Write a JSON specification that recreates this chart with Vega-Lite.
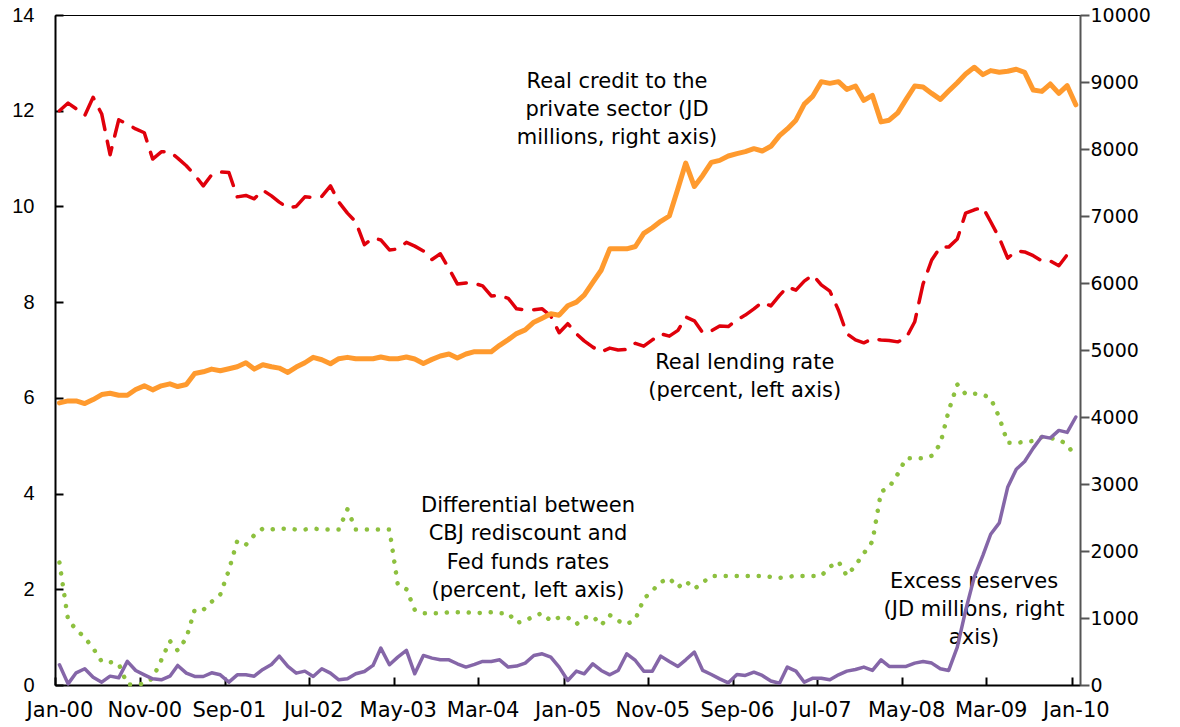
{
  "$schema": "https://vega.github.io/schema/vega-lite/v6.json",
  "width": 1025,
  "height": 670,
  "autosize": {"type": "none"},
  "padding": {"left": 55, "top": 15, "right": 100, "bottom": 42},
  "config": {"view": {"stroke": "#000", "strokeWidth": 1}, "font": "Liberation Sans"},
  "data": {"values": [
    {"date":"2000/01/01","lending":12.0,"differential":2.56,"credit":4210,"reserves":302},
    {"date":"2000/02/01","lending":12.16,"differential":1.36,"credit":4240,"reserves":17},
    {"date":"2000/03/01","lending":12.04,"differential":1.16,"credit":4240,"reserves":182},
    {"date":"2000/04/01","lending":11.9,"differential":0.99,"credit":4200,"reserves":242},
    {"date":"2000/05/01","lending":12.28,"differential":0.77,"credit":4260,"reserves":117},
    {"date":"2000/06/01","lending":11.93,"differential":0.49,"credit":4335,"reserves":42},
    {"date":"2000/07/01","lending":11.08,"differential":0.48,"credit":4355,"reserves":132},
    {"date":"2000/08/01","lending":11.81,"differential":0.44,"credit":4325,"reserves":107},
    {"date":"2000/09/01","lending":11.72,"differential":0.01,"credit":4325,"reserves":352},
    {"date":"2000/10/01","lending":11.62,"differential":0.01,"credit":4410,"reserves":217},
    {"date":"2000/11/01","lending":11.54,"differential":0.03,"credit":4465,"reserves":152},
    {"date":"2000/12/01","lending":10.99,"differential":0.14,"credit":4405,"reserves":92},
    {"date":"2001/01/01","lending":11.14,"differential":0.52,"credit":4465,"reserves":77},
    {"date":"2001/02/01","lending":11.14,"differential":0.92,"credit":4495,"reserves":132},
    {"date":"2001/03/01","lending":11.01,"differential":0.72,"credit":4455,"reserves":292},
    {"date":"2001/04/01","lending":10.85,"differential":0.98,"credit":4485,"reserves":177},
    {"date":"2001/05/01","lending":10.66,"differential":1.57,"credit":4650,"reserves":127},
    {"date":"2001/06/01","lending":10.43,"differential":1.57,"credit":4675,"reserves":127},
    {"date":"2001/07/01","lending":10.66,"differential":1.74,"credit":4715,"reserves":182},
    {"date":"2001/08/01","lending":10.72,"differential":1.89,"credit":4690,"reserves":152},
    {"date":"2001/09/01","lending":10.71,"differential":2.40,"credit":4720,"reserves":42},
    {"date":"2001/10/01","lending":10.2,"differential":3.01,"credit":4750,"reserves":152},
    {"date":"2001/11/01","lending":10.23,"differential":2.93,"credit":4810,"reserves":152},
    {"date":"2001/12/01","lending":10.16,"differential":3.13,"credit":4715,"reserves":132},
    {"date":"2002/01/01","lending":10.34,"differential":3.27,"credit":4780,"reserves":232},
    {"date":"2002/02/01","lending":10.22,"differential":3.25,"credit":4750,"reserves":307},
    {"date":"2002/03/01","lending":10.09,"differential":3.27,"credit":4730,"reserves":431},
    {"date":"2002/04/01","lending":9.97,"differential":3.26,"credit":4665,"reserves":277},
    {"date":"2002/05/01","lending":10.0,"differential":3.25,"credit":4745,"reserves":177},
    {"date":"2002/06/01","lending":10.2,"differential":3.25,"credit":4810,"reserves":207},
    {"date":"2002/07/01","lending":10.19,"differential":3.27,"credit":4890,"reserves":127},
    {"date":"2002/08/01","lending":10.21,"differential":3.25,"credit":4855,"reserves":242},
    {"date":"2002/09/01","lending":10.43,"differential":3.25,"credit":4795,"reserves":177},
    {"date":"2002/10/01","lending":10.09,"differential":3.25,"credit":4870,"reserves":77},
    {"date":"2002/11/01","lending":9.86,"differential":3.67,"credit":4890,"reserves":92},
    {"date":"2002/12/01","lending":9.68,"differential":3.25,"credit":4870,"reserves":167},
    {"date":"2003/01/01","lending":9.2,"differential":3.25,"credit":4870,"reserves":202},
    {"date":"2003/02/01","lending":9.34,"differential":3.25,"credit":4870,"reserves":292},
    {"date":"2003/03/01","lending":9.3,"differential":3.25,"credit":4895,"reserves":551},
    {"date":"2003/04/01","lending":9.09,"differential":3.25,"credit":4870,"reserves":302},
    {"date":"2003/05/01","lending":9.11,"differential":2.10,"credit":4870,"reserves":416},
    {"date":"2003/06/01","lending":9.25,"differential":2.0,"credit":4895,"reserves":516},
    {"date":"2003/07/01","lending":9.17,"differential":1.57,"credit":4865,"reserves":167},
    {"date":"2003/08/01","lending":9.07,"differential":1.5,"credit":4800,"reserves":441},
    {"date":"2003/09/01","lending":8.89,"differential":1.5,"credit":4860,"reserves":401},
    {"date":"2003/10/01","lending":9.01,"differential":1.5,"credit":4910,"reserves":376},
    {"date":"2003/11/01","lending":8.7,"differential":1.52,"credit":4940,"reserves":376},
    {"date":"2003/12/01","lending":8.38,"differential":1.52,"credit":4880,"reserves":317},
    {"date":"2004/01/01","lending":8.4,"differential":1.52,"credit":4940,"reserves":267},
    {"date":"2004/02/01","lending":8.39,"differential":1.5,"credit":4975,"reserves":307},
    {"date":"2004/03/01","lending":8.34,"differential":1.51,"credit":4975,"reserves":352},
    {"date":"2004/04/01","lending":8.13,"differential":1.52,"credit":4975,"reserves":352},
    {"date":"2004/05/01","lending":8.14,"differential":1.5,"credit":5070,"reserves":376},
    {"date":"2004/06/01","lending":8.08,"differential":1.5,"credit":5155,"reserves":267},
    {"date":"2004/07/01","lending":7.86,"differential":1.3,"credit":5245,"reserves":282},
    {"date":"2004/08/01","lending":7.84,"differential":1.34,"credit":5300,"reserves":327},
    {"date":"2004/09/01","lending":7.84,"differential":1.44,"credit":5415,"reserves":441},
    {"date":"2004/10/01","lending":7.86,"differential":1.5,"credit":5475,"reserves":466},
    {"date":"2004/11/01","lending":7.71,"differential":1.34,"credit":5540,"reserves":416},
    {"date":"2004/12/01","lending":7.36,"differential":1.41,"credit":5520,"reserves":267},
    {"date":"2005/01/01","lending":7.55,"differential":1.41,"credit":5660,"reserves":67},
    {"date":"2005/02/01","lending":7.34,"differential":1.27,"credit":5715,"reserves":207},
    {"date":"2005/03/01","lending":7.19,"differential":1.41,"credit":5820,"reserves":167},
    {"date":"2005/04/01","lending":7.06,"differential":1.44,"credit":6010,"reserves":317},
    {"date":"2005/05/01","lending":6.96,"differential":1.25,"credit":6190,"reserves":217},
    {"date":"2005/06/01","lending":7.04,"differential":1.46,"credit":6510,"reserves":152},
    {"date":"2005/07/01","lending":7.0,"differential":1.34,"credit":6510,"reserves":217},
    {"date":"2005/08/01","lending":7.01,"differential":1.27,"credit":6510,"reserves":466},
    {"date":"2005/09/01","lending":7.14,"differential":1.37,"credit":6545,"reserves":366},
    {"date":"2005/10/01","lending":7.08,"differential":1.8,"credit":6740,"reserves":207},
    {"date":"2005/11/01","lending":7.21,"differential":1.97,"credit":6825,"reserves":207},
    {"date":"2005/12/01","lending":7.34,"differential":2.15,"credit":6920,"reserves":431},
    {"date":"2006/01/01","lending":7.29,"differential":2.23,"credit":7000,"reserves":352},
    {"date":"2006/02/01","lending":7.41,"differential":2.04,"credit":7410,"reserves":277},
    {"date":"2006/03/01","lending":7.69,"differential":2.17,"credit":7790,"reserves":376},
    {"date":"2006/04/01","lending":7.61,"differential":2.01,"credit":7440,"reserves":491},
    {"date":"2006/05/01","lending":7.36,"differential":2.14,"credit":7605,"reserves":217},
    {"date":"2006/06/01","lending":7.4,"differential":2.28,"credit":7800,"reserves":157},
    {"date":"2006/07/01","lending":7.5,"differential":2.28,"credit":7830,"reserves":92},
    {"date":"2006/08/01","lending":7.49,"differential":2.28,"credit":7895,"reserves":32},
    {"date":"2006/09/01","lending":7.63,"differential":2.28,"credit":7930,"reserves":157},
    {"date":"2006/10/01","lending":7.73,"differential":2.28,"credit":7960,"reserves":142},
    {"date":"2006/11/01","lending":7.86,"differential":2.28,"credit":8005,"reserves":192},
    {"date":"2006/12/01","lending":8.0,"differential":2.28,"credit":7970,"reserves":142},
    {"date":"2007/01/01","lending":7.92,"differential":2.26,"credit":8040,"reserves":60},
    {"date":"2007/02/01","lending":8.14,"differential":2.24,"credit":8200,"reserves":27},
    {"date":"2007/03/01","lending":8.32,"differential":2.26,"credit":8300,"reserves":267},
    {"date":"2007/04/01","lending":8.25,"differential":2.28,"credit":8430,"reserves":207},
    {"date":"2007/05/01","lending":8.44,"differential":2.28,"credit":8670,"reserves":42},
    {"date":"2007/06/01","lending":8.57,"differential":2.28,"credit":8790,"reserves":102},
    {"date":"2007/07/01","lending":8.36,"differential":2.28,"credit":9005,"reserves":102},
    {"date":"2007/08/01","lending":8.23,"differential":2.47,"credit":8980,"reserves":77},
    {"date":"2007/09/01","lending":7.83,"differential":2.58,"credit":9005,"reserves":152},
    {"date":"2007/10/01","lending":7.34,"differential":2.28,"credit":8890,"reserves":207},
    {"date":"2007/11/01","lending":7.21,"differential":2.5,"credit":8940,"reserves":232},
    {"date":"2007/12/01","lending":7.15,"differential":2.75,"credit":8725,"reserves":267},
    {"date":"2008/01/01","lending":7.23,"differential":3.0,"credit":8800,"reserves":217},
    {"date":"2008/02/01","lending":7.21,"differential":4.04,"credit":8405,"reserves":376},
    {"date":"2008/03/01","lending":7.2,"differential":4.13,"credit":8430,"reserves":277},
    {"date":"2008/04/01","lending":7.17,"differential":4.41,"credit":8540,"reserves":277},
    {"date":"2008/05/01","lending":7.25,"differential":4.74,"credit":8740,"reserves":277},
    {"date":"2008/06/01","lending":7.59,"differential":4.74,"credit":8940,"reserves":327},
    {"date":"2008/07/01","lending":8.38,"differential":4.74,"credit":8925,"reserves":352},
    {"date":"2008/08/01","lending":8.88,"differential":4.79,"credit":8830,"reserves":327},
    {"date":"2008/09/01","lending":9.15,"differential":5.04,"credit":8740,"reserves":242},
    {"date":"2008/10/01","lending":9.15,"differential":5.73,"credit":8865,"reserves":217},
    {"date":"2008/11/01","lending":9.32,"differential":6.28,"credit":8990,"reserves":565},
    {"date":"2008/12/01","lending":9.86,"differential":6.08,"credit":9120,"reserves":1115},
    {"date":"2009/01/01","lending":9.93,"differential":6.09,"credit":9220,"reserves":1610},
    {"date":"2009/02/01","lending":9.98,"differential":6.07,"credit":9110,"reserves":1935},
    {"date":"2009/03/01","lending":9.68,"differential":5.99,"credit":9170,"reserves":2250},
    {"date":"2009/04/01","lending":9.34,"differential":5.59,"credit":9145,"reserves":2420},
    {"date":"2009/05/01","lending":8.92,"differential":5.06,"credit":9160,"reserves":2950},
    {"date":"2009/06/01","lending":9.07,"differential":5.06,"credit":9190,"reserves":3220},
    {"date":"2009/07/01","lending":9.05,"differential":5.08,"credit":9145,"reserves":3335},
    {"date":"2009/08/01","lending":8.97,"differential":5.1,"credit":8880,"reserves":3535},
    {"date":"2009/09/01","lending":8.86,"differential":5.18,"credit":8860,"reserves":3710},
    {"date":"2009/10/01","lending":8.86,"differential":5.16,"credit":8970,"reserves":3685},
    {"date":"2009/11/01","lending":8.76,"differential":5.13,"credit":8830,"reserves":3800},
    {"date":"2009/12/01","lending":8.99,"differential":5.02,"credit":8945,"reserves":3770},
    {"date":"2010/01/01","lending":9.03,"differential":4.76,"credit":8660,"reserves":4000}
  ]},
  "encoding": {
    "x": {
      "field": "date", "type": "temporal",
      "scale": {"domain": [{"year": 1999, "month": 12, "date": 16}, {"year": 2010, "month": 1, "date": 16}]},
      "axis": {
        "title": null, "grid": false, "format": "%b-%y",
        "values": [
          {"year": 2000, "month": 1, "date": 1}, {"year": 2000, "month": 11, "date": 1},
          {"year": 2001, "month": 9, "date": 1}, {"year": 2002, "month": 7, "date": 1},
          {"year": 2003, "month": 5, "date": 1}, {"year": 2004, "month": 3, "date": 1},
          {"year": 2005, "month": 1, "date": 1}, {"year": 2005, "month": 11, "date": 1},
          {"year": 2006, "month": 9, "date": 1}, {"year": 2007, "month": 7, "date": 1},
          {"year": 2008, "month": 5, "date": 1}, {"year": 2009, "month": 3, "date": 1},
          {"year": 2010, "month": 1, "date": 1}
        ],
        "tickSize": -8, "tickWidth": 2, "tickColor": "#000", "tickOffset": -4.2, "labelOffset": 4.2,
        "domainColor": "#000", "domainWidth": 2,
        "labelFont": "DejaVu Sans", "labelFontSize": 21, "labelColor": "#000",
        "labelPadding": 22, "labelFlush": false, "labelOverlap": false, "labelBound": false
      }
    }
  },
  "layer": [
    {
      "encoding": {
        "y": {
          "field": "value", "type": "quantitative",
          "scale": {"domain": [0, 14], "nice": false},
          "axis": {
            "orient": "left", "title": null, "grid": false,
            "values": [0, 2, 4, 6, 8, 10, 12, 14],
            "tickSize": -8, "tickWidth": 2, "tickColor": "#000",
            "domainColor": "#000", "domainWidth": 2,
            "labelFont": "Liberation Sans", "labelFontSize": 20, "labelColor": "#000",
            "labelPadding": 29, "labelFlush": false, "labelOverlap": false
          }
        }
      },
      "layer": [
        {
          "transform": [{"fold": ["differential"], "as": ["series", "value"]}],
          "mark": {"type": "line", "color": "#8DC03F", "strokeWidth": 4.5, "strokeDash": [0.1, 10.9], "strokeCap": "round", "strokeJoin": "round"}
        },
        {
          "transform": [{"fold": ["lending"], "as": ["series", "value"]}],
          "mark": {"type": "line", "color": "#E0000B", "strokeWidth": 3.5, "strokeDash": [21, 12], "strokeCap": "round", "strokeJoin": "round"}
        },
        {
          "data": {"values": [
            {"date": "2005/06/27", "value": 12.61, "label": ["Real credit to the", "private sector (JD", "millions, right axis)"]},
            {"date": "2006/09/29", "value": 6.73, "label": ["Real lending rate", "(percent, left axis)"]},
            {"date": "2004/08/11", "value": 3.74, "label": ["Differential between", "CBJ rediscount and", "Fed funds rates", "(percent, left axis)"]},
            {"date": "2008/12/31", "value": 2.16, "label": ["Excess reserves", "(JD millions, right", "axis)"]}
          ]},
          "mark": {"type": "text", "font": "DejaVu Sans", "fontSize": 21, "lineHeight": 28.3, "align": "center", "baseline": "middle", "color": "#000"},
          "encoding": {"text": {"field": "label"}}
        }
      ]
    },
    {
      "encoding": {
        "y": {
          "field": "value", "type": "quantitative",
          "scale": {"domain": [0, 10000], "nice": false},
          "axis": {
            "orient": "right", "title": null, "grid": false,
            "values": [0, 1000, 2000, 3000, 4000, 5000, 6000, 7000, 8000, 9000, 10000],
            "format": "d",
            "tickSize": 9, "tickWidth": 2, "tickColor": "#555",
            "domainColor": "#555", "domainWidth": 2,
            "labelFont": "DejaVu Sans", "labelFontSize": 19, "labelColor": "#000",
            "labelPadding": 1, "labelFlush": false, "labelOverlap": false
          }
        }
      },
      "layer": [
        {
          "transform": [{"fold": ["credit"], "as": ["series", "value"]}],
          "mark": {"type": "line", "color": "#FF9A2E", "strokeWidth": 5, "strokeJoin": "round", "strokeCap": "round"}
        },
        {
          "transform": [{"fold": ["reserves"], "as": ["series", "value"]}],
          "mark": {"type": "line", "color": "#8566A8", "strokeWidth": 3.5, "strokeJoin": "round", "strokeCap": "round"}
        }
      ]
    }
  ],
  "resolve": {"scale": {"y": "independent"}}
}
